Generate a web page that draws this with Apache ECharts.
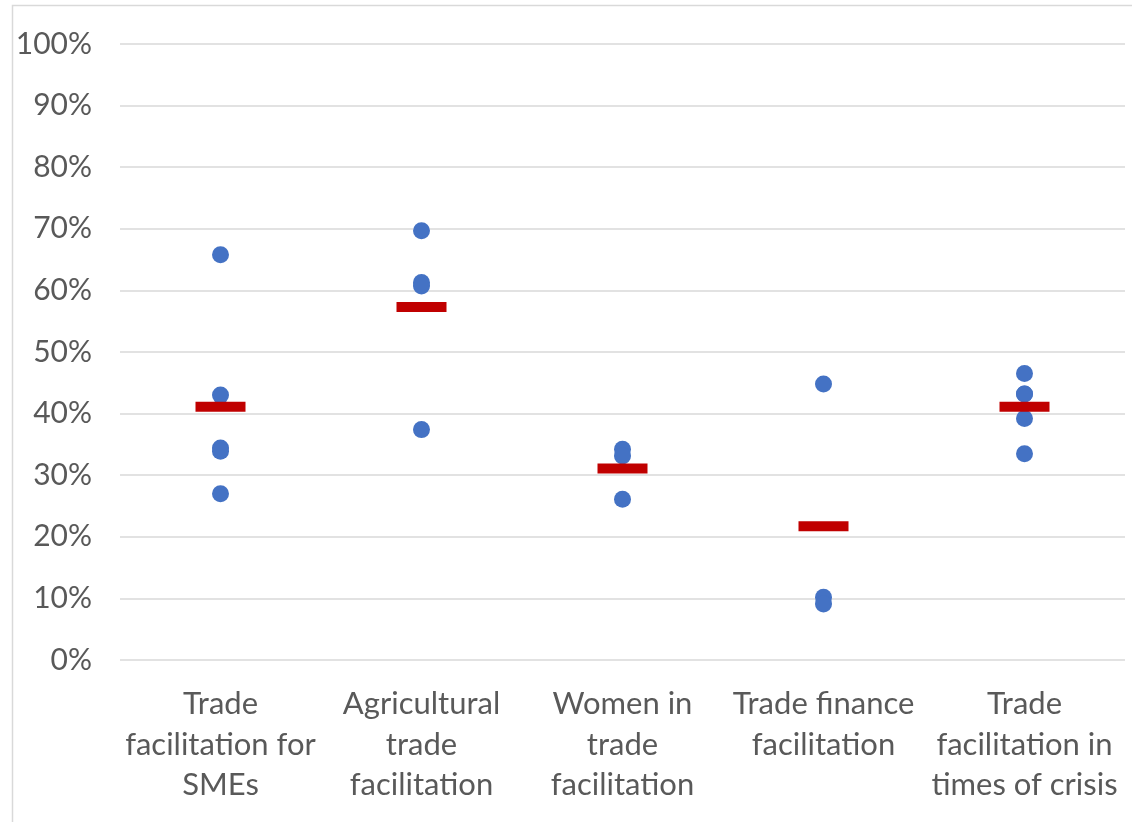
<!DOCTYPE html>
<html><head><meta charset="utf-8">
<script src="https://cdn.jsdelivr.net/npm/echarts@6/dist/echarts.min.js"></script>
<style>html,body{margin:0;padding:0;background:#fff}#c{width:1132px;height:822px}</style>
</head><body><div id="c"></div>
<script>
const categories = ["Trade\nfacilitation for\nSMEs","Agricultural\ntrade\nfacilitation","Women in\ntrade\nfacilitation","Trade finance\nfacilitation","Trade\nfacilitation in\ntimes of crisis"];
const smeValues = [65.8, 43.0, 34.4, 33.9, 27.0];
const agriValues = [69.7, 61.3, 60.7, 37.4];
const womenValues = [34.2, 33.1, 26.1];
const financeValues = [44.8, 10.2, 9.1];
const crisisValues = [46.5, 43.2, 43.2, 39.2, 33.5];
const meanValues = [41.1, 57.3, 31.1, 21.7, 41.1];
const yTicks = [0,10,20,30,40,50,60,70,80,90,100];

const groups = [smeValues, agriValues, womenValues, financeValues, crisisValues];
const dots = [];
groups.forEach((g,i)=>g.forEach(v=>dots.push([i,v])));
const means = meanValues.map((v,i)=>[i,v]);

const font = 'Lato';
const chart = echarts.init(document.getElementById('c'));
chart.setOption({
  animation:false,
  graphic:[{type:'rect',shape:{x:12.5,y:5.5,width:1130,height:830},style:{fill:'none',stroke:'#d9d9d9',lineWidth:1.5},silent:true}],
  grid:{left:120,right:7,top:44,bottom:162},
  xAxis:{type:'category',data:categories,
    axisLine:{show:false},axisTick:{show:false},
    axisLabel:{color:'#595959',fontFamily:font,fontSize:31,lineHeight:40.5,margin:24,interval:0}},
  yAxis:{type:'value',min:0,max:100,interval:10,
    axisLine:{show:false},axisTick:{show:false},
    splitLine:{lineStyle:{color:'#d9d9d9',width:1.5}},
    axisLabel:{color:'#595959',fontFamily:font,fontSize:30,margin:28,
      formatter:v=>yTicks.includes(v)?v+'%':''}},
  series:[
    {type:'scatter',data:dots,symbol:'circle',symbolSize:17,itemStyle:{color:'#4472C4',opacity:1}},
    {type:'scatter',data:means,symbol:'rect',symbolSize:[50,10],itemStyle:{color:'#C00000',opacity:1},z:3}
  ]
});
</script></body></html>
